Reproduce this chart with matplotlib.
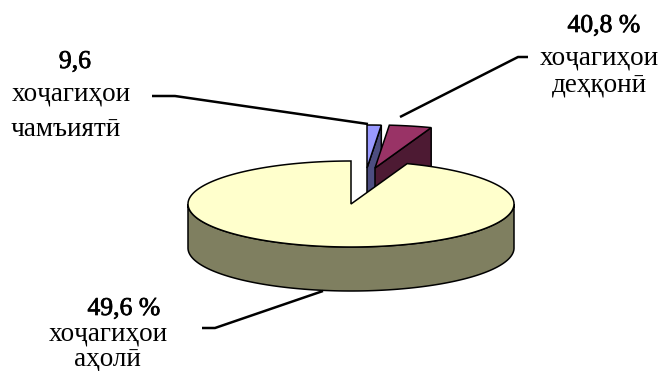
import numpy as np
import matplotlib
matplotlib.use("Agg")
import matplotlib.pyplot as plt
import matplotlib.patheffects as pe
from matplotlib.patches import Polygon

plt.rcParams["font.family"] = ["Liberation Serif", "DejaVu Serif"]

# printed labels, the slices in the picture do not follow these numbers
label_values = ["49,6 %", "40,8 %", "9,6"]
label_first = ["хоҷагиҳои", "хоҷагиҳои", "хоҷагиҳои"]
label_second = ["аҳолӣ", "деҳқонӣ", "чамъиятӣ"]

# share of the circle each slice really takes up in the drawing (percent)
slice_shares = [94.4, 4.2, 1.4]
top_colors = ["#ffffcc", "#993366", "#9999ff"]
wall_colors = ["#7f7f60", "#4d1a33", "#4d4d80"]

# pie geometry, in image pixels
cx, cy = 351, 204
rx, ry = 163, 43
depth = 44
W, H = 659, 371


def arc(x0, y0, a0, a1, n=200):
    t = np.radians(np.linspace(a0, a1, n))
    return np.column_stack([x0 + rx * np.cos(t), y0 - ry * np.sin(t)])


def poly(ax, pts, color, z):
    ax.add_patch(Polygon(pts, closed=True, facecolor=color, edgecolor="black",
                         linewidth=1.1, joinstyle="miter", zorder=z))


fig = plt.figure(figsize=(W / 100, H / 100), dpi=100)
ax = fig.add_axes([0, 0, 1, 1])
ax.set_xlim(0, W)
ax.set_ylim(H, 0)
ax.axis("off")

# slice angles, going counter clockwise from the top of the ellipse
edges = 90 + np.cumsum([0] + slice_shares) * 3.6

# blue slice, pulled out to the top
bx, by = 367, 168
e = arc(bx, by, edges[2], edges[3], 20)
wall = [e[0], (bx, by), (bx, by + depth), e[0] + [0, depth]]
poly(ax, wall, wall_colors[2], 1)
poly(ax, [(bx, by)] + list(e), top_colors[2], 2)

# purple slice
px, py = 375, 168
e = arc(px, py, edges[1], edges[2], 20)
wall = [e[0], (px, py), (px, py + depth), e[0] + [0, depth]]
poly(ax, wall, wall_colors[1], 3)
poly(ax, [(px, py)] + list(e), top_colors[1], 4)

# big slice: outer wall then the top face
front = arc(cx, cy, 180, 360)
poly(ax, list(front) + list((front + [0, depth])[::-1]), wall_colors[0], 5)
poly(ax, [(cx, cy)] + list(arc(cx, cy, edges[0], edges[1], 400)), top_colors[0], 6)

# leader lines
leader_xs = [[202, 215, 323], [400, 518, 528], [152, 175, 368]]
leader_ys = [[328, 328, 291], [117, 57, 57], [96, 96, 124]]
for xs, ys in zip(leader_xs, leader_ys):
    ax.plot(xs, ys, color="black", lw=1.8, solid_capstyle="butt", zorder=7)

# text blocks, placed on their baselines
value_x = [124, 604, 75]
value_y = [315, 32, 68]
first_x = [108, 599, 71]
first_y = [340, 65, 100]
second_x = [107, 599, 66]
second_y = [366, 93, 136]
# the numbers are a little heavier than the names
heavy = [pe.withStroke(linewidth=0.5, foreground="black")]
for i in range(3):
    ax.text(value_x[i], value_y[i], label_values[i], fontsize=18.5, ha="center",
            va="baseline", path_effects=heavy)
    ax.text(first_x[i], first_y[i], label_first[i], fontsize=19.5, ha="center", va="baseline")
    ax.text(second_x[i], second_y[i], label_second[i], fontsize=19.5, ha="center", va="baseline")

fig.savefig("out.png", dpi=100)
